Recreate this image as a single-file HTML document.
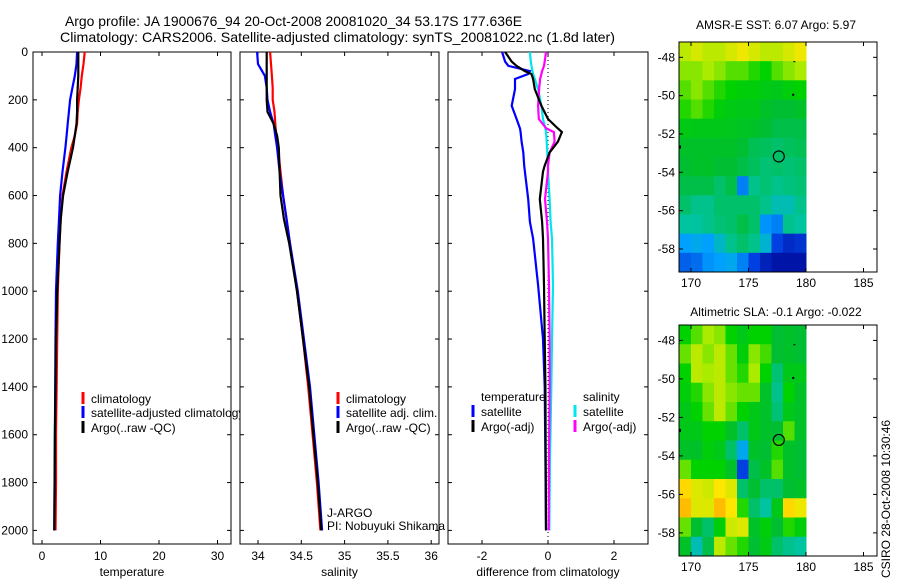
<!DOCTYPE html>
<html><head><meta charset="utf-8"><style>
body{margin:0;background:#fff;}
svg{display:block;font-family:"Liberation Sans",sans-serif;font-size:12px;}
</style></head><body>
<svg id="fig" width="900" height="580" viewBox="0 0 900 580">
<defs>
<clipPath id="c1"><rect x="33" y="52" width="198" height="492"/></clipPath>
<clipPath id="c2"><rect x="240" y="52" width="199" height="492"/></clipPath>
<clipPath id="c3"><rect x="448" y="52" width="200" height="492"/></clipPath>
<clipPath id="c1leg"><rect x="33" y="52" width="207" height="492"/></clipPath>
</defs>
<text x="65" y="26" font-size="14" textLength="457" lengthAdjust="spacingAndGlyphs">Argo profile: JA 1900676_94 20-Oct-2008 20081020_34 53.17S 177.636E</text>
<text x="60" y="42" font-size="14" textLength="555" lengthAdjust="spacingAndGlyphs">Climatology: CARS2006. Satellite-adjusted climatology: synTS_20081022.nc (1.8d later)</text>
<text x="776" y="29" text-anchor="middle">AMSR-E SST: 6.07 Argo: 5.97</text>
<text x="776" y="316" text-anchor="middle">Altimetric SLA: -0.1 Argo: -0.022</text>
<text transform="translate(890,578) rotate(-90)">CSIRO 28-Oct-2008 10:30:46</text>
<g id="g"></g>
</svg>
<script>
// ---- data ----
const depth = [0,50,100,150,200,250,300,350,400,500,600,700,800,1000,1200,1400,1600,1800,2000];
const tempClim = [7.3,7.1,6.8,6.6,6.3,6.1,6.0,5.6,5.0,4.2,3.5,3.2,3.0,2.7,2.6,2.5,2.4,2.4,2.3];
const tempSat  = [6.0,5.9,5.6,5.2,4.8,4.6,4.4,4.2,4.0,3.5,3.1,2.9,2.7,2.4,2.3,2.25,2.2,2.15,2.1];
const tempArgo = [6.2,6.2,6.2,6.1,6.0,6.0,5.9,5.6,5.3,4.4,3.6,3.2,3.0,2.6,2.4,2.3,2.2,2.15,2.1];
const salClim = [34.14,34.15,34.16,34.17,34.17,34.19,34.2,34.21,34.23,34.26,34.29,34.33,34.37,34.45,34.52,34.58,34.63,34.68,34.72];
const salSat  = [33.99,34.0,34.08,34.1,34.11,34.14,34.18,34.2,34.22,34.25,34.29,34.33,34.37,34.46,34.53,34.6,34.65,34.7,34.74];
const salArgo = [34.1,34.1,34.1,34.1,34.1,34.11,34.18,34.22,34.24,34.25,34.26,34.3,34.36,34.45,34.52,34.59,34.64,34.69,34.73];
const dDepth = [0,40,58,80,92,113,155,225,280,320,335,375,420,475,500,615,710,780,975,1200,1400,1700,2000];
const dTempSat  = [-1.39,-1.3,-1.2,-0.55,-0.6,-1.0,-1.0,-1.1,-0.95,-0.85,-0.83,-0.8,-0.75,-0.72,-0.7,-0.6,-0.55,-0.45,-0.3,-0.15,-0.1,-0.08,-0.06];
const dTempArgo = [-1.3,-1.1,-0.95,-0.7,-0.5,-0.45,-0.4,-0.2,0.0,0.3,0.42,0.3,0.05,-0.1,-0.15,-0.25,-0.18,-0.15,-0.12,-0.1,-0.08,-0.07,-0.06];
const dSalArgo  = [-0.06,-0.1,-0.12,-0.18,-0.2,-0.24,-0.27,-0.3,-0.28,-0.05,0.18,0.2,0.05,0.0,0.0,-0.09,-0.03,0.0,0.03,0.05,0.05,0.03,0.02];
const dSalSat   = [-0.55,-0.52,-0.5,-0.47,-0.45,-0.4,-0.3,-0.2,-0.15,-0.08,-0.06,-0.04,-0.02,0.0,0.0,0.05,0.08,0.12,0.15,0.12,0.1,0.06,0.04];
const depthTicks = [0,200,400,600,800,1000,1200,1400,1600,1800,2000];
const tempTicks = [0,10,20,30];
const salTicks = ["34","34.5","35","35.5","36"];
const diffTicks = [-2,0,2];
const lonTicks = [170,175,180,185];
const latTicks = [-48,-50,-52,-54,-56,-58];
const sstGrid = [
[0.72,0.75,0.72,0.72,0.75,0.78,0.75,0.72,0.72,0.75,0.78],
[0.68,0.68,0.7,0.68,0.65,0.65,0.62,0.6,0.65,0.68,0.7],
[0.65,0.68,0.65,0.62,0.6,0.58,0.58,0.56,0.55,0.58,0.6],
[0.62,0.65,0.62,0.58,0.56,0.55,0.55,0.52,0.5,0.5,0.52],
[0.56,0.55,0.55,0.55,0.54,0.53,0.52,0.5,0.48,0.48,0.48],
[0.52,0.52,0.52,0.52,0.52,0.5,0.47,0.46,0.45,0.46,0.47],
[0.5,0.52,0.52,0.5,0.5,0.48,0.46,0.44,0.45,0.44,0.45],
[0.48,0.48,0.48,0.45,0.48,0.25,0.42,0.44,0.42,0.43,0.44],
[0.45,0.42,0.42,0.45,0.45,0.45,0.45,0.42,0.38,0.38,0.42],
[0.4,0.4,0.42,0.44,0.45,0.48,0.45,0.28,0.25,0.42,0.4],
[0.3,0.32,0.3,0.36,0.42,0.45,0.42,0.35,0.15,0.1,0.12],
[0.2,0.22,0.28,0.3,0.32,0.25,0.15,0.08,0.05,0.05,0.05]];
const slaGrid = [
[0.6,0.65,0.7,0.68,0.6,0.55,0.6,0.6,0.5,0.52,0.5],
[0.66,0.72,0.68,0.72,0.66,0.58,0.68,0.64,0.5,0.52,0.5],
[0.6,0.72,0.7,0.72,0.66,0.62,0.7,0.6,0.44,0.55,0.55],
[0.58,0.62,0.68,0.72,0.68,0.66,0.66,0.52,0.42,0.6,0.52],
[0.55,0.6,0.66,0.72,0.66,0.6,0.55,0.52,0.44,0.55,0.52],
[0.55,0.55,0.6,0.6,0.52,0.45,0.55,0.52,0.5,0.65,0.52],
[0.52,0.52,0.58,0.55,0.45,0.32,0.52,0.5,0.62,0.52,0.5],
[0.66,0.6,0.6,0.6,0.52,0.15,0.48,0.52,0.65,0.52,0.5],
[0.82,0.76,0.74,0.8,0.76,0.45,0.5,0.45,0.45,0.5,0.52],
[0.86,0.76,0.76,0.86,0.8,0.62,0.45,0.4,0.55,0.82,0.78],
[0.66,0.5,0.45,0.58,0.74,0.76,0.52,0.58,0.5,0.62,0.58],
[0.52,0.38,0.48,0.72,0.66,0.62,0.5,0.56,0.45,0.42,0.4]];
const argoLon = 177.636, argoLat = -53.17;

// ---- helpers ----
const NS="http://www.w3.org/2000/svg";
const G=document.getElementById('g');
function mk(tag,attrs,parent){const e=document.createElementNS(NS,tag);for(const k in attrs)e.setAttribute(k,attrs[k]);(parent||G).appendChild(e);return e;}
const yD = d => 52 + d*0.2392;
const xT = t => 42 + t*5.85;
const xS = s => 258 + (s-34)*86.6;
const xDf = v => 548 + v*33;
function line(xs,ys,color,clip,name){
  const pts=xs.map((v,i)=>xs[i].toFixed(1)+','+ys[i].toFixed(1)).join(' ');
  const p=mk('polyline',{points:pts,fill:'none',stroke:color,'stroke-width':2.2,'clip-path':'url(#'+clip+')'});
  
  
}
function frame(x,y,w,h,name){
  const r=mk('rect',{x:x,y:y,width:w,height:h,fill:'none',stroke:'#000','stroke-width':1});
  
  
}
function txt(x,y,s,anchor,name){
  const t=mk('text',{x:x,y:y,'text-anchor':anchor||'start'});t.textContent=s;
  
  
  return t;
}
// ---- panels ----
const panels=[[33,'temperature'],[240,'salinity'],[448,'difference from climatology']];
panels.forEach(([x0,lab],pi)=>{
  const w = pi===0?198:(pi===1?199:200);
  frame(x0,52,w,492,'panel-'+(pi+1)+'-frame');
  depthTicks.forEach(d=>{const y=yD(d);mk('line',{x1:x0,y1:y,x2:x0+4,y2:y,stroke:'#000'});mk('line',{x1:x0+w-4,y1:y,x2:x0+w,y2:y,stroke:'#000'});
    if(pi===0) txt(28,y+4,String(d),'end','depth-tick-label');});
  txt(x0+w/2,576,lab,'middle','x-axis-title-'+(pi+1));
});
tempTicks.forEach(t=>{const x=xT(t);mk('line',{x1:x,y1:544,x2:x,y2:540,stroke:'#000'});mk('line',{x1:x,y1:52,x2:x,y2:56,stroke:'#000'});txt(x,560,String(t),'middle','temp-tick-label');});
salTicks.forEach(s=>{const x=xS(+s);mk('line',{x1:x,y1:544,x2:x,y2:540,stroke:'#000'});mk('line',{x1:x,y1:52,x2:x,y2:56,stroke:'#000'});txt(x,560,s,'middle','sal-tick-label');});
diffTicks.forEach(v=>{const x=xDf(v);mk('line',{x1:x,y1:544,x2:x,y2:540,stroke:'#000'});mk('line',{x1:x,y1:52,x2:x,y2:56,stroke:'#000'});txt(x,560,String(v),'middle','diff-tick-label');});
mk('line',{x1:xDf(0),y1:52,x2:xDf(0),y2:544,stroke:'#000','stroke-dasharray':'1,3'});

line(tempClim.map(xT),depth.map(yD),'#ff0000','c1','temp-climatology-line');
line(tempSat.map(xT),depth.map(yD),'#0000ff','c1','temp-satellite-line');
line(tempArgo.map(xT),depth.map(yD),'#000000','c1','temp-argo-line');
line(salClim.map(xS),depth.map(yD),'#ff0000','c2','sal-climatology-line');
line(salSat.map(xS),depth.map(yD),'#0000ff','c2','sal-satellite-line');
line(salArgo.map(xS),depth.map(yD),'#000000','c2','sal-argo-line');
line(dTempSat.map(xDf),dDepth.map(yD),'#0000ff','c3','diff-temp-satellite-line');
line(dSalSat.map(xDf),dDepth.map(yD),'#00e5ee','c3','diff-sal-satellite-line');
line(dSalArgo.map(xDf),dDepth.map(yD),'#ff00ff','c3','diff-sal-argo-line');
line(dTempArgo.map(xDf),dDepth.map(yD),'#000000','c3','diff-temp-argo-line');

// legends
function legItem(mx,y,color,label,name,clip){
  mk('line',{x1:mx,y1:y-6,x2:mx,y2:y+6,stroke:color,'stroke-width':3});
  const t=txt(mx+8,y+5,label,'start',name);
  if(clip) t.setAttribute('clip-path','url(#'+clip+')');
}
legItem(83,398,'#ff0000','climatology','legend-climatology');
legItem(83,412,'#0000ff','satellite-adjusted climatology','legend-satellite-adjusted','c1leg');
legItem(83,427,'#000000','Argo(..raw -QC)','legend-argo');
legItem(338,398,'#ff0000','climatology','legend2-climatology');
legItem(338,412,'#0000ff','satellite adj. clim.','legend2-satellite');
legItem(338,427,'#000000','Argo(..raw -QC)','legend2-argo');
txt(481,401,'temperature','start','legend3-temperature-header');
txt(583,401,'salinity','start','legend3-salinity-header');
legItem(473,411,'#0000ff','satellite','legend3-temp-satellite');
legItem(473,426,'#000000','Argo(-adj)','legend3-temp-argo');
legItem(575,411,'#00e5ee','satellite','legend3-sal-satellite');
legItem(575,426,'#ff00ff','Argo(-adj)','legend3-sal-argo');
txt(327,517,'J-ARGO','start','pi-group');
txt(327,530,'PI: Nobuyuki Shikama','start','pi-name');

// ---- maps ----
const stops=[[0,[0,0,140]],[0.15,[0,64,224]],[0.3,[0,160,255]],[0.4,[0,195,160]],[0.5,[0,190,50]],[0.6,[0,210,0]],[0.7,[170,235,0]],[0.8,[255,230,0]],[0.9,[255,160,0]],[1,[224,64,0]]];
function cmap(v){v=Math.max(0,Math.min(1,v));for(let i=1;i<stops.length;i++){if(v<=stops[i][0]){const a=stops[i-1],b=stops[i],f=(v-a[0])/(b[0]-a[0]);const c=a[1].map((q,k)=>Math.round(q+(b[1][k]-q)*f));return 'rgb('+c.join(',')+')';}}return 'rgb(224,64,0)';}
function drawMap(top,bottom,grid,mname){
  const xL=679,xR=877;
  const xl=lon=>691+(lon-170)*11.5;
  const pxPerDeg=(bottom-top)/12;
  const lat0=-47.2;
  const yl=lat=>top+(lat0-lat)*pxPerDeg;
  grid.forEach((row,r)=>row.forEach((v,c)=>{
    const x1=xl(169+c),x2=xl(170+c),y1=yl(lat0-r),y2=yl(lat0-r-1);
    const cell=mk('rect',{x:x1,y:y1,width:x2-x1+0.5,height:y2-y1+0.5,fill:cmap(v)});
    
    
  }));
  frame(xL,top,xR-xL,bottom-top,mname+'-frame');
  lonTicks.forEach(l=>{const x=xl(l);mk('line',{x1:x,y1:top,x2:x,y2:top+4,stroke:'#000'});mk('line',{x1:x,y1:bottom,x2:x,y2:bottom-4,stroke:'#000'});txt(x,bottom+15,String(l),'middle',mname+'-lon-label');});
  latTicks.forEach(l=>{const y=yl(l);mk('line',{x1:xL,y1:y,x2:xL+4,y2:y,stroke:'#000'});mk('line',{x1:xR-4,y1:y,x2:xR,y2:y,stroke:'#000'});txt(675,y+4,String(l),'end',mname+'-lat-label');});
  const c=mk('circle',{cx:xl(argoLon),cy:yl(argoLat),r:5.5,fill:'none',stroke:'#000','stroke-width':1.2});
  
  
  mk('rect',{x:xl(178.9),y:yl(-48.2),width:2,height:1,fill:'#000'});
  mk('rect',{x:xl(178.8),y:yl(-49.9),width:2,height:2,fill:'#000'});
  mk('rect',{x:xL,y:yl(-52.6),width:2,height:3,fill:'#000'});
}
drawMap(42,272,sstGrid,'sst-map');
drawMap(325,556,slaGrid,'sla-map');
</script>
</body></html>
